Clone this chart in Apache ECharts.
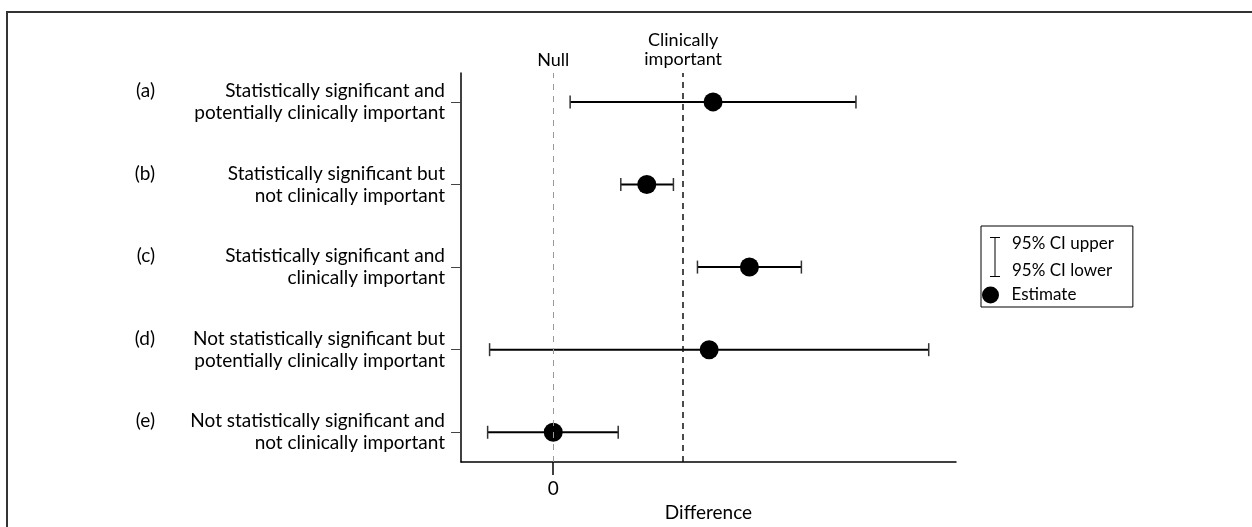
<!DOCTYPE html>
<html><head><meta charset="utf-8">
<script src="https://cdn.jsdelivr.net/npm/echarts@6/dist/echarts.min.js"></script>
<style>html,body{margin:0;padding:0;background:#fff}#c{width:1252px;height:527px}</style>
</head><body><div id="c"></div>
<script>
const rowTags = ['(a)', '(b)', '(c)', '(d)', '(e)'];
const rowLabels = [
  'Statistically significant and\npotentially clinically important',
  'Statistically significant but\nnot clinically important',
  'Statistically significant and\nclinically important',
  'Not statistically significant but\npotentially clinically important',
  'Not statistically significant and\nnot clinically important'
];
const rowPositions = [4, 3, 2, 1, 0];
const estimates = [1.23, 0.72, 1.51, 1.20, 0.00];
const ciLower = [0.13, 0.52, 1.11, -0.49, -0.505];
const ciUpper = [2.33, 0.925, 1.91, 2.89, 0.50];
const nullValue = 0;
const clinicalValue = 1;
const xTickValues = [0];
const xTickLabels = ['0'];

const FONT = 'Lato';
const ciData = rowPositions.map((y, i) => [ciLower[i], ciUpper[i], y]);
const estData = rowPositions.map((y, i) => [estimates[i], y]);

const chart = echarts.init(document.getElementById('c'), null, {renderer: 'canvas'});
chart.setOption({
  animation: false,
  backgroundColor: '#fff',
  textStyle: {fontFamily: FONT, color: '#000'},
  grid: {left: 461, right: 296, top: 73, bottom: 63, containLabel: false},
  graphic: [{
    type: 'polyline', silent: true,
    shape: {points: [[7, 527], [7, 12], [1252, 12]]},
    style: {stroke: '#333', lineWidth: 2, fill: null}
  }],
  xAxis: {
    type: 'value', min: -0.71, max: 3.1,
    axisLine: {onZero: false, lineStyle: {color: '#000', width: 1.5}},
    axisTick: {show: true, customValues: xTickValues, length: 13, lineStyle: {color: '#000', width: 1.5}},
    axisLabel: {customValues: xTickValues, formatter: v => xTickLabels[xTickValues.indexOf(v)], margin: 17, fontSize: 19, color: '#000', fontFamily: FONT},
    splitLine: {show: false},
    name: 'Difference', nameLocation: 'middle', nameGap: 41,
    nameTextStyle: {fontSize: 19, color: '#000', fontFamily: FONT}
  },
  yAxis: [{
    type: 'value', min: -0.36, max: 4.35, position: 'left',
    axisLine: {show: true, onZero: false, lineStyle: {color: '#000', width: 1.5}},
    axisTick: {show: true, customValues: rowPositions, length: 10, lineStyle: {color: '#444', width: 1}},
    axisLabel: {customValues: rowPositions, formatter: v => rowLabels[rowPositions.indexOf(v)],
      align: 'right', margin: 16, fontSize: 19, lineHeight: 22, color: '#000', fontFamily: FONT, padding: [0, 0, 6, 0]},
    splitLine: {show: false}
  }, {
    type: 'value', min: -0.36, max: 4.35, position: 'left', offset: 298,
    axisLine: {show: false, onZero: false}, axisTick: {show: false},
    axisLabel: {customValues: rowPositions, formatter: v => rowTags[rowPositions.indexOf(v)] + '\n ',
      align: 'right', margin: 8, fontSize: 19, lineHeight: 22, color: '#000', fontFamily: FONT, padding: [0, 0, 6, 0]},
    splitLine: {show: false}
  }],
  legend: [{
    left: 981, top: 226, orient: 'vertical', selectedMode: false,
    padding: [4, 19, 23, 9], borderColor: '#000', borderWidth: 1,
    itemWidth: 24, itemHeight: 40,
    data: [{name: 'CI', icon: 'path://M0,0H10V1H5.5V39H10V40H0V39H4.5V1H0Z', itemStyle: {color: '#000', opacity: 1}}],
    formatter: n => n === 'CI' ? '95% CI upper\n95% CI lower' : n,
    textStyle: {fontSize: 17, lineHeight: 27, fontFamily: FONT, color: '#000'}
  }, {
    left: 982, top: 286.5, padding: 0, selectedMode: false,
    itemWidth: 32, itemHeight: 17,
    data: [{name: 'Estimate', icon: 'circle', itemStyle: {color: '#000', opacity: 1}}],
    textStyle: {fontSize: 17, fontFamily: FONT, color: '#000'}
  }],
  series: [{
    name: 'refs', type: 'scatter', data: [], z: 1,
    markLine: {
      silent: true, symbol: 'none', animation: false,
      label: {show: true, position: 'end', distance: 4, fontSize: 18, color: '#000', fontFamily: FONT},
      data: [
        {xAxis: nullValue, lineStyle: {color: '#999', type: [6, 6], width: 1}, label: {formatter: 'Null'}},
        {xAxis: clinicalValue, lineStyle: {color: '#111', type: [6, 5], width: 1.5}, label: {formatter: 'Clinically\nimportant', lineHeight: 19}}
      ]
    }
  }, {
    name: 'CI', type: 'custom', z: 2, data: ciData,
    itemStyle: {color: '#000'},
    encode: {x: [0, 1], y: 2},
    renderItem: function (params, api) {
      const lo = api.coord([api.value(0), api.value(2)]);
      const hi = api.coord([api.value(1), api.value(2)]);
      const capH = 6.5;
      return {type: 'group', children: [
        {type: 'line', shape: {x1: lo[0], y1: lo[1], x2: hi[0], y2: hi[1]}, style: {stroke: '#000', lineWidth: 2}},
        {type: 'line', shape: {x1: lo[0], y1: lo[1] - capH, x2: lo[0], y2: lo[1] + capH}, style: {stroke: '#333', lineWidth: 1.5}},
        {type: 'line', shape: {x1: hi[0], y1: hi[1] - capH, x2: hi[0], y2: hi[1] + capH}, style: {stroke: '#333', lineWidth: 1.5}}
      ]};
    }
  }, {
    name: 'Estimate', type: 'scatter', z: 3, data: estData,
    symbol: 'circle', symbolSize: 19, itemStyle: {color: '#000', opacity: 1}
  }]
});
</script>
</body></html>
